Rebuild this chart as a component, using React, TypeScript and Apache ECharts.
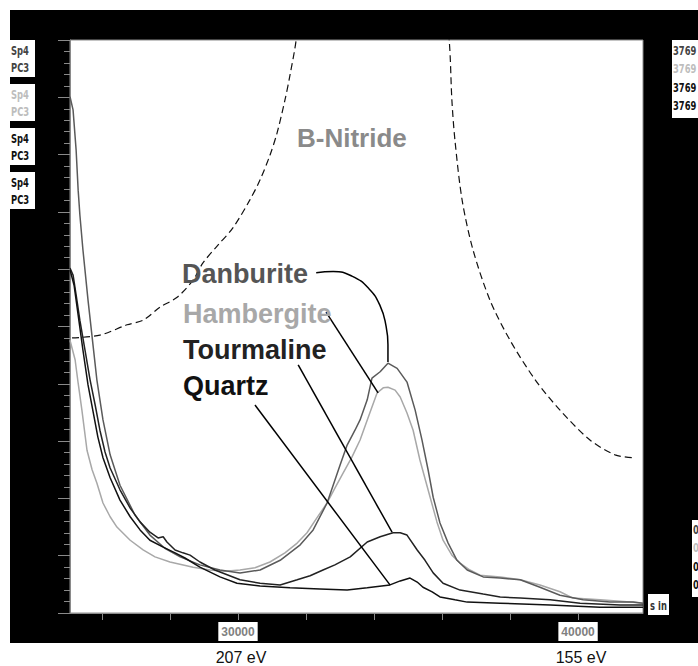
import React, { useEffect, useRef } from "react";
import * as echarts from "echarts";

// ---- data (x: channel, y: relative intensity) ----
const danburite: [number, number][] = [
  [25060, 90.1], [25150, 87.8], [25240, 80.8], [25300, 73.8], [25350, 69.5], [25440, 63.4],
  [25590, 54.6], [25710, 48.2], [25850, 40.7], [26030, 33.7], [26240, 27.6], [26530, 22.3],
  [26970, 17.1], [27410, 13.6], [27850, 11.3], [28300, 9.8], [28880, 8.4], [29470, 7.5],
  [30060, 7.0], [30650, 7.5], [31240, 9.2], [31830, 11.9], [32210, 14.5], [32620, 19.2],
  [33000, 25.8], [33210, 29.3], [33440, 31.9], [33590, 33.7], [33800, 37.2], [33940, 41.0],
  [34180, 42.1], [34410, 43.6], [34680, 42.7], [34970, 40.3], [35210, 35.4], [35410, 30.2],
  [35590, 25.0], [35740, 20.2], [35940, 15.7], [36180, 12.2], [36440, 9.2], [36740, 7.5],
  [37210, 6.3], [37710, 6.1], [38300, 5.8], [38880, 4.5], [39470, 3.1], [40150, 2.3],
  [40940, 1.9], [41620, 1.9], [41910, 1.7],
];
const hambergite: [number, number][] = [
  [25060, 47.6], [25210, 44.2], [25300, 40.1], [25410, 35.4], [25560, 28.4], [25710, 25.0],
  [25850, 22.7], [26030, 19.2], [26240, 16.8], [26440, 15.0], [26830, 12.7], [27210, 11.0],
  [27560, 9.8], [28000, 8.9], [28680, 8.0], [29180, 7.5], [29620, 7.3], [30060, 7.5],
  [30500, 7.9], [30940, 8.9], [31380, 10.5], [31740, 12.2], [32030, 14.0], [32320, 16.6],
  [32620, 19.2], [32850, 21.8], [33090, 24.4], [33350, 27.2], [33590, 30.2], [33820, 34.0],
  [34090, 38.4], [34270, 39.3], [34410, 39.4], [34620, 38.9], [34770, 37.7], [34970, 34.9],
  [35150, 31.9], [35350, 26.7], [35650, 20.2], [35850, 15.9], [36030, 12.7], [36290, 10.1],
  [36530, 8.7], [36820, 7.5], [37120, 6.6], [37710, 6.3], [38300, 5.8], [38880, 4.9],
  [39470, 3.7], [39850, 2.6], [40650, 2.3], [41530, 1.9], [41910, 1.7],
];
const tourmaline: [number, number][] = [
  [25060, 60.2], [25150, 59.0], [25240, 55.5], [25350, 51.1], [25500, 45.9], [25650, 40.7],
  [25800, 36.3], [25940, 31.9], [26090, 28.1], [26240, 25.3], [26530, 21.5], [26830, 18.3],
  [27120, 15.9], [27410, 14.1], [27650, 13.1], [27800, 13.3], [27910, 12.4], [28150, 11.0],
  [28380, 10.5], [28590, 10.1], [28880, 8.9], [29320, 7.5], [30060, 5.8], [30650, 5.2],
  [31240, 4.9], [31740, 5.8], [32120, 6.5], [32500, 7.5], [32850, 8.4], [33300, 9.8],
  [33800, 12.4], [34180, 13.3], [34560, 14.0], [34770, 14.0], [34970, 13.6], [35270, 11.0],
  [35500, 9.2], [35740, 7.0], [36030, 5.2], [36530, 4.0], [37210, 3.3], [37710, 2.8],
  [38300, 2.6], [39180, 2.3], [40060, 1.7], [41240, 1.4], [41910, 1.4],
];
const quartz: [number, number][] = [
  [25060, 59.9], [25180, 57.2], [25300, 52.0], [25440, 45.9], [25590, 39.8], [25740, 35.1],
  [25880, 30.7], [26030, 27.1], [26240, 23.6], [26530, 19.7], [26830, 16.8], [27120, 14.5],
  [27410, 12.7], [27800, 11.5], [28150, 10.5], [28440, 9.6], [28880, 8.0], [29470, 6.3],
  [29970, 5.2], [30650, 4.7], [31530, 4.4], [32410, 4.2], [33210, 4.0], [33800, 4.4],
  [34470, 4.9], [34770, 5.6], [35060, 6.1], [35270, 5.4], [35440, 4.5], [35710, 3.7],
  [35940, 2.8], [36380, 2.3], [36740, 1.9], [37710, 1.7], [39180, 1.4], [40650, 1.0],
  [41910, 1.0],
];
const bNitride: [number, number][] = [
  [25120, 48.0], [25940, 48.5], [26740, 50.3], [27210, 51.1], [27710, 53.4], [28210, 55.1],
  [28680, 58.1], [28970, 61.1], [29410, 64.2], [29850, 67.2], [30350, 72.1], [30650, 75.6],
  [30940, 79.9], [31150, 83.8], [31380, 89.5], [31530, 93.9], [31710, 100], [31970, 114],
  [33940, 142], [35940, 114], [36210, 100], [36290, 89.5], [36380, 82.5], [36590, 72.1],
  [36910, 63.4], [37410, 54.6], [38000, 47.6], [38740, 40.7], [39470, 35.4], [40350, 30.2],
  [41090, 27.6], [41590, 27.1],
];

// leader lines (label -> peak)
const danburiteLeader: [number, number][] = [
  [32300, 59.4], [32800, 59.6], [33350, 58.8], [33850, 56.6], [34180, 53.6], [34350, 50.2],
  [34410, 46.8], [34410, 43.8],
];
const hambergiteLeader: [number, number][] = [[32590, 52.5], [34120, 38.4]];
const tourmalineLeader: [number, number][] = [[31770, 43.3], [34530, 14.1]];
const quartzLeader: [number, number][] = [[30500, 36.3], [34470, 4.9]];

const xTicks = [26000, 28000, 30000, 32000, 34000, 36000, 38000, 40000];
const xTickLabels = [30000, 40000];
const energyLabels = ["207 eV", "155 eV"];

const seriesNames = ["Danburite", "Hambergite", "Tourmaline", "Quartz"];
const seriesColors = ["#5a5a5a", "#a8a8a8", "#222222", "#111111"];
const labelColors = ["#555555", "#a8a8a8", "#222222", "#111111"];
const labelAnchors: [number, number][] = [[28354, 59.2], [28383, 52.2], [28383, 45.9], [28383, 39.6]];
const bNitrideLabel = "B-Nitride";
const bNitrideAnchor: [number, number] = [31736, 82.9];

const leftCodes = ["Sp4", "PC3"];
const rightCode = "3769";
const rightBottomCode = "0";
const unitCode = "s in";

const NARROW = "'DejaVu Sans', sans-serif";
const SANS = "'Liberation Sans', Arial, sans-serif";

export default function App() {
  const ref = useRef<HTMLDivElement>(null);
  useEffect(() => {
    if (!ref.current) return;
    const chart = echarts.init(ref.current, null, { renderer: "svg" });
    const line = (name: string, data: [number, number][], color: string, width: number, extra: any = {}) => ({
      type: "line",
      name,
      data,
      symbol: "none",
      silent: true,
      clip: true,
      lineStyle: { color, width, ...(extra.lineStyle || {}) },
      itemStyle: { color },
      smooth: extra.smooth || false,
      z: extra.z || 2,
    });
    chart.setOption({
      animation: false,
      grid: {
        left: 70, top: 40, width: 573, height: 573,
        show: true, backgroundColor: "#ffffff", borderColor: "#8a8a8a", borderWidth: 1,
      },
      xAxis: {
        type: "value", min: 25060, max: 41910,
        axisLine: { show: true, onZero: false, lineStyle: { color: "#8a8a8a", width: 1 } },
        axisTick: { show: true, customValues: xTicks, length: 7, lineStyle: { color: "#8a8a8a" } },
        axisLabel: {
          show: true, customValues: xTickLabels, formatter: (v: number) => String(v),
          color: "#808080", fontFamily: SANS, fontSize: 12, fontWeight: "bold",
          backgroundColor: "#ffffff", padding: [4, 3, 3, 3], margin: 9,
        },
        splitLine: { show: false },
      },
      yAxis: {
        type: "value", min: 0, max: 100, interval: 10,
        axisLine: { show: true, lineStyle: { color: "#8a8a8a", width: 1 } },
        axisTick: { show: true, length: 12, lineStyle: { color: "#8a8a8a" } },
        minorTick: { show: true, splitNumber: 5, length: 6, lineStyle: { color: "#8a8a8a" } },
        axisLabel: { show: false },
        splitLine: { show: false },
      },
      series: [
        line(bNitrideLabel, bNitride, "#111111", 1.2, { smooth: 0.3, lineStyle: { type: [7, 4] } }),
        line(seriesNames[1], hambergite, seriesColors[1], 1.5),
        line(seriesNames[0], danburite, seriesColors[0], 1.5),
        line(seriesNames[2], tourmaline, seriesColors[2], 1.5),
        line(seriesNames[3], quartz, seriesColors[3], 1.5),
        line("leader-d", danburiteLeader, "#000", 1.5, { smooth: 0.5, z: 3 }),
        line("leader-h", hambergiteLeader, "#000", 1.5, { z: 3 }),
        line("leader-t", tourmalineLeader, "#000", 1.5, { z: 3 }),
        line("leader-q", quartzLeader, "#000", 1.5, { z: 3 }),
      ],
    });

    const px = (p: [number, number]) => chart.convertToPixel({ gridIndex: 0 }, p) as number[];
    const colorsBox = ["#444444", "#bdbdbd", "#111111", "#111111"];
    const graphics: any[] = [];
    const narrowText = (text: string, x: number, y: number, fill: string, size: number, align = "left") => ({
      type: "text", z: -40, silent: true, x, y, scaleX: 0.7,
      style: { text, fill, font: `bold ${size}px ${NARROW}`, align, verticalAlign: "middle" },
    });
    graphics.push({ type: "rect", z: -100, silent: true, shape: { x: 10, y: 10, width: 688, height: 633 }, style: { fill: "#000000" } });
    // left code boxes
    const boxTops = [40, 84, 128, 172];
    boxTops.forEach((t, i) => {
      graphics.push({ type: "rect", z: -50, silent: true, shape: { x: 10, y: t, width: 25, height: 37 }, style: { fill: "#ffffff" } });
      leftCodes.forEach((c, j) => {
        graphics.push(narrowText(c, 11, t + 10 + j * 17, colorsBox[i], 12));
      });
    });
    // right top box
    graphics.push({ type: "rect", z: -50, silent: true, shape: { x: 672, y: 40, width: 30, height: 78 }, style: { fill: "#ffffff" } });
    colorsBox.forEach((col, i) => {
      graphics.push(narrowText(rightCode, 673, 50 + i * 18.5, col, 12));
    });
    // right bottom box
    graphics.push({ type: "rect", z: -50, silent: true, shape: { x: 692, y: 520, width: 10, height: 77 }, style: { fill: "#ffffff" } });
    colorsBox.forEach((col, i) => {
      graphics.push(narrowText(rightBottomCode, 693, 529 + i * 18.5, col, 12));
    });
    // unit box
    graphics.push({ type: "rect", z: -50, silent: true, shape: { x: 648, y: 594, width: 21, height: 21 }, style: { fill: "#ffffff" } });
    graphics.push(narrowText(unitCode, 658.5, 605, "#333333", 12, "center"));
    // energy labels
    xTickLabels.forEach((v, i) => {
      const p = px([v, 0]);
      graphics.push({ type: "text", silent: true, x: p[0] + 3, y: 657,
        style: { text: energyLabels[i], fill: "#111111", font: `16px ${SANS}`, align: "center", verticalAlign: "middle" } });
    });
    // series labels
    seriesNames.forEach((n, i) => {
      const p = px(labelAnchors[i]);
      graphics.push({ type: "text", silent: true, z: 10, x: p[0], y: p[1],
        style: { text: n, fill: labelColors[i], font: `bold 27px ${SANS}`, align: "left", verticalAlign: "middle" } });
    });
    const bp = px(bNitrideAnchor);
    graphics.push({ type: "text", silent: true, z: 10, x: bp[0], y: bp[1],
      style: { text: bNitrideLabel, fill: "#8a8a8a", font: `bold 26px ${SANS}`, align: "left", verticalAlign: "middle" } });

    chart.setOption({ graphic: graphics });
    return () => chart.dispose();
  }, []);
  return <div ref={ref} style={{ position: "absolute", left: 0, top: 0, width: 698, height: 666 }} />;
}
